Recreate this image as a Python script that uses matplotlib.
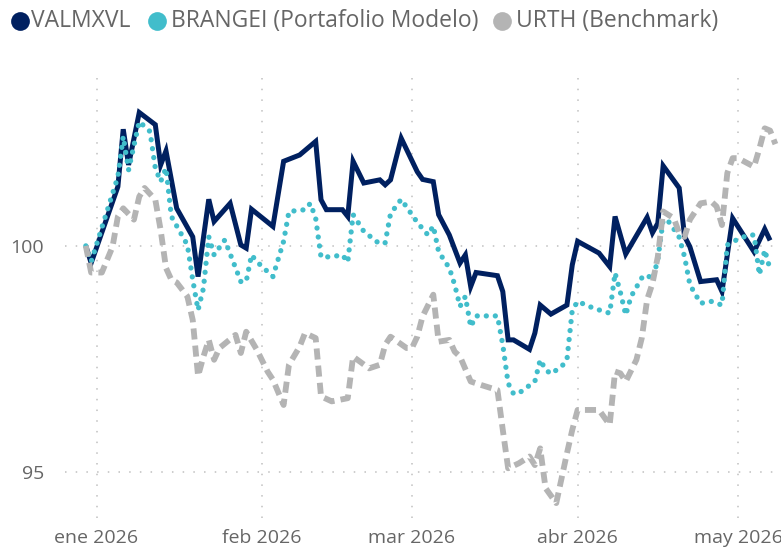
import matplotlib
matplotlib.use("Agg")
import matplotlib.pyplot as plt
import matplotlib.dates as mdates
from matplotlib.lines import Line2D
import numpy as np

series_names = ["VALMXVL", "BRANGEI (Portafolio Modelo)", "URTH (Benchmark)"]
month_ticks = ["2026-01-01", "2026-02-01", "2026-03-01", "2026-04-01", "2026-05-01"]
month_labels = ["ene 2026", "feb 2026", "mar 2026", "abr 2026", "may 2026"]
y_ticks = [95, 100]

valmx_dates = ['2025-12-30', '2025-12-31', '2026-01-05', '2026-01-06', '2026-01-07', '2026-01-09',
               '2026-01-12', '2026-01-13', '2026-01-14', '2026-01-16', '2026-01-19', '2026-01-20',
               '2026-01-22', '2026-01-23', '2026-01-26', '2026-01-28', '2026-01-29', '2026-01-30',
               '2026-02-03', '2026-02-05', '2026-02-08', '2026-02-11', '2026-02-12', '2026-02-13',
               '2026-02-16', '2026-02-17', '2026-02-18', '2026-02-20', '2026-02-23', '2026-02-24',
               '2026-02-25', '2026-02-27', '2026-03-02', '2026-03-03', '2026-03-05', '2026-03-06',
               '2026-03-08', '2026-03-10', '2026-03-11', '2026-03-12', '2026-03-13', '2026-03-17',
               '2026-03-18', '2026-03-19', '2026-03-20', '2026-03-23', '2026-03-24', '2026-03-25',
               '2026-03-27', '2026-03-30', '2026-03-31', '2026-04-01', '2026-04-05', '2026-04-07',
               '2026-04-08', '2026-04-10', '2026-04-14', '2026-04-15', '2026-04-16', '2026-04-17',
               '2026-04-20', '2026-04-21', '2026-04-22', '2026-04-24', '2026-04-27', '2026-04-28',
               '2026-04-30', '2026-05-04', '2026-05-06', '2026-05-07']
valmx_values = [100.00, 99.62, 101.31, 102.58, 101.79, 102.95,
                102.68, 101.79, 102.10, 100.83, 100.20, 99.32,
                101.03, 100.54, 100.94, 100.02, 99.95, 100.81,
                100.43, 101.87, 102.01, 102.31, 101.02, 100.80,
                100.80, 100.65, 101.87, 101.39, 101.46, 101.35,
                101.46, 102.38, 101.64, 101.47, 101.42, 100.69,
                100.24, 99.62, 99.80, 99.10, 99.41, 99.34,
                98.99, 97.92, 97.92, 97.71, 98.07, 98.69,
                98.49, 98.69, 99.58, 100.10, 99.84, 99.54,
                100.65, 99.82, 100.63, 100.29, 100.50, 101.77,
                101.28, 100.21, 99.98, 99.21, 99.25, 98.99,
                100.61, 99.87, 100.37, 100.12]

brangei_dates = ['2025-12-30', '2025-12-31', '2026-01-05', '2026-01-06', '2026-01-07', '2026-01-09',
                 '2026-01-11', '2026-01-12', '2026-01-13', '2026-01-14', '2026-01-15', '2026-01-18',
                 '2026-01-19', '2026-01-20', '2026-01-21', '2026-01-22', '2026-01-23', '2026-01-25',
                 '2026-01-28', '2026-01-29', '2026-01-30', '2026-01-31', '2026-02-03', '2026-02-05',
                 '2026-02-06', '2026-02-09', '2026-02-10', '2026-02-11', '2026-02-12', '2026-02-14',
                 '2026-02-16', '2026-02-17', '2026-02-18', '2026-02-20', '2026-02-23', '2026-02-24',
                 '2026-02-25', '2026-02-27', '2026-02-28', '2026-03-02', '2026-03-04', '2026-03-05',
                 '2026-03-06', '2026-03-08', '2026-03-09', '2026-03-10', '2026-03-11', '2026-03-12',
                 '2026-03-13', '2026-03-17', '2026-03-18', '2026-03-19', '2026-03-20', '2026-03-21',
                 '2026-03-24', '2026-03-25', '2026-03-26', '2026-03-27', '2026-03-29', '2026-03-30',
                 '2026-03-31', '2026-04-01', '2026-04-04', '2026-04-07', '2026-04-08', '2026-04-09',
                 '2026-04-10', '2026-04-11', '2026-04-13', '2026-04-14', '2026-04-15', '2026-04-16',
                 '2026-04-17', '2026-04-18', '2026-04-19', '2026-04-20', '2026-04-21', '2026-04-22',
                 '2026-04-24', '2026-04-26', '2026-04-28', '2026-04-29', '2026-05-01', '2026-05-03',
                 '2026-05-04', '2026-05-05', '2026-05-06', '2026-05-07']
brangei_values = [100.00, 99.65, 101.53, 102.42, 101.68, 102.75,
                  102.53, 101.72, 101.42, 101.72, 100.65, 100.02,
                  99.25, 98.58, 99.06, 100.20, 99.80, 100.13,
                  99.21, 99.21, 99.80, 99.65, 99.32, 100.10,
                  100.76, 100.80, 100.94, 100.61, 99.75, 99.76,
                  99.80, 99.64, 100.69, 100.32, 100.04, 100.07,
                  100.71, 101.03, 100.86, 100.52, 100.24, 100.44,
                  99.87, 99.51, 99.14, 98.66, 98.88, 98.21,
                  98.45, 98.45, 97.81, 96.96, 96.73, 96.74,
                  97.00, 97.48, 97.26, 97.17, 97.33, 97.48,
                  98.58, 98.77, 98.62, 98.51, 99.40, 98.97,
                  98.47, 98.88, 99.29, 99.36, 99.25, 99.69,
                  100.58, 100.54, 100.37, 100.19, 99.76, 99.14,
                  98.73, 98.77, 98.69, 100.02, 100.15, 100.24,
                  100.24, 99.36, 99.91, 99.48]

urth_dates = ['2025-12-30', '2025-12-31', '2026-01-02', '2026-01-04', '2026-01-05', '2026-01-06',
              '2026-01-08', '2026-01-09', '2026-01-10', '2026-01-12', '2026-01-13', '2026-01-14',
              '2026-01-15', '2026-01-16', '2026-01-18', '2026-01-19', '2026-01-20', '2026-01-21',
              '2026-01-22', '2026-01-23', '2026-01-24', '2026-01-27', '2026-01-28', '2026-01-29',
              '2026-01-31', '2026-02-02', '2026-02-03', '2026-02-05', '2026-02-06', '2026-02-08',
              '2026-02-09', '2026-02-11', '2026-02-12', '2026-02-14', '2026-02-17', '2026-02-18',
              '2026-02-21', '2026-02-23', '2026-02-24', '2026-02-25', '2026-02-28', '2026-03-01',
              '2026-03-02', '2026-03-03', '2026-03-05', '2026-03-06', '2026-03-08', '2026-03-09',
              '2026-03-10', '2026-03-12', '2026-03-14', '2026-03-17', '2026-03-18', '2026-03-19',
              '2026-03-21', '2026-03-23', '2026-03-24', '2026-03-25', '2026-03-26', '2026-03-28',
              '2026-03-30', '2026-03-31', '2026-04-01', '2026-04-04', '2026-04-05', '2026-04-07',
              '2026-04-08', '2026-04-09', '2026-04-10', '2026-04-12', '2026-04-13', '2026-04-14',
              '2026-04-15', '2026-04-16', '2026-04-17', '2026-04-19', '2026-04-20', '2026-04-21',
              '2026-04-22', '2026-04-24', '2026-04-26', '2026-04-27', '2026-04-28', '2026-04-29',
              '2026-04-30', '2026-05-01', '2026-05-04', '2026-05-05', '2026-05-06', '2026-05-07',
              '2026-05-08']
urth_values = [100.00, 99.41, 99.41, 99.98, 100.65, 100.83,
               100.58, 101.09, 101.28, 101.02, 100.35, 99.51,
               99.25, 99.19, 98.88, 98.36, 97.12, 97.55,
               97.92, 97.48, 97.74, 98.03, 97.63, 98.10,
               97.70, 97.22, 97.04, 96.48, 97.37, 97.77,
               98.07, 97.96, 96.67, 96.56, 96.63, 97.55,
               97.29, 97.37, 97.81, 97.99, 97.74, 97.74,
               97.99, 98.44, 98.92, 97.88, 97.92, 97.66,
               97.55, 97.00, 96.92, 96.81, 95.93, 95.08,
               95.19, 95.34, 95.15, 95.52, 94.64, 94.31,
               95.41, 95.93, 96.37, 96.37, 96.37, 96.04,
               97.22, 97.18, 97.00, 97.48, 97.96, 98.81,
               99.17, 99.76, 100.76, 100.61, 100.28, 100.20,
               100.58, 100.94, 100.98, 100.87, 100.46, 101.61,
               101.94, 101.94, 101.75, 102.15, 102.60, 102.55,
               102.25]

navy = "#002060"
teal = "#41BDCB"
gray = "#B4B4B4"
text_color = "#666666"
font = "Open Sans"

W, H = 781, 548
fig = plt.figure(figsize=(W / 100, H / 100), dpi=100)
ax = fig.add_axes([65 / W, 1 - 518 / H, (W - 65) / W, (518 - 70) / H])

def to_dt(lst):
    return np.array(lst, dtype="datetime64[D]")

ax.plot(to_dt(valmx_dates), valmx_values, color=navy, lw=3.6, solid_joinstyle="miter",
        solid_capstyle="butt", zorder=3)
ax.plot(to_dt(brangei_dates), brangei_values, color=teal, lw=3.8,
        linestyle=(0, (0.01, 1.7)), dash_capstyle="round", zorder=4)
ax.plot(to_dt(urth_dates), urth_values, color=gray, lw=4.2,
        linestyle=(0, (1.9, 1.05)), dash_capstyle="butt", zorder=5)

jan1 = np.datetime64("2026-01-01")
px_per_day = (738 - 96.5) / 120.0
left_days = (65 - 96.5) / px_per_day
right_days = (W - 96.5) / px_per_day
ax.set_xlim(mdates.date2num(jan1) + left_days, mdates.date2num(jan1) + right_days)
ax.set_ylim(93.98, 103.89)

ax.set_xticks(mdates.date2num(to_dt(month_ticks)))
ax.set_xticklabels(month_labels)
ax.set_yticks(y_ticks)
ax.set_yticklabels([str(v) for v in y_ticks])
ax.tick_params(axis="both", length=0, labelcolor=text_color, labelsize=14)
ax.tick_params(axis="y", pad=15)
ax.tick_params(axis="x", pad=8)
for lab in ax.get_xticklabels() + ax.get_yticklabels():
    lab.set_fontfamily(font)
ax.grid(True, color="#C0C0C0", lw=1.1, linestyle=(0, (1, 6)))
ax.set_axisbelow(True)
for s in ax.spines.values():
    s.set_visible(False)

# legend
legend_items = [(20, 31, navy), (157, 171, teal), (502, 516, gray)]
for (cx, tx, col), name in zip(legend_items, series_names):
    fig.add_artist(Line2D([cx / W], [1 - 21 / H], marker="o", markersize=13.5, color=col,
                          markeredgewidth=0, linestyle="none", transform=fig.transFigure))
    fig.text(tx / W, 1 - 21 / H, name, color=text_color, fontsize=16.5, family=font,
             ha="left", va="center")

fig.savefig("out.png", dpi=100)
